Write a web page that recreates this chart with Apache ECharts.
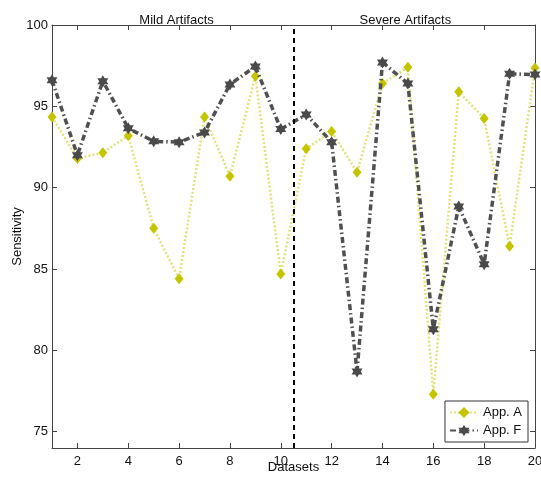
<!DOCTYPE html>
<html>
<head>
<meta charset="utf-8">
<script src="https://cdn.jsdelivr.net/npm/echarts@6/dist/echarts.min.js"></script>
<style>html,body{margin:0;padding:0;background:#fff;}#c{width:541px;height:477px;}</style>
</head>
<body>
<div id="c"></div>
<script>
const datasets = [1,2,3,4,5,6,7,8,9,10,11,12,13,14,15,16,17,18,19,20];
const appA = [94.35,91.8,92.15,93.2,87.5,84.4,94.35,90.7,96.85,84.7,92.4,93.45,90.95,96.4,97.4,77.3,95.9,94.25,86.4,97.35];
const appF = [96.6,92.0,96.55,93.65,92.85,92.8,93.4,96.35,97.45,93.6,94.5,92.8,78.7,97.7,96.4,81.3,88.85,85.3,97.0,96.95];
const xTicks = [2,4,6,8,10,12,14,16,18,20];
const yTicks = [75,80,85,90,95,100];
const splitAt = 10.5;
const sectionTitles = ['Mild Artifacts','Severe Artifacts'];
const sectionCenters = [5.9, 14.9];

const star = 'path://M0,-10 L2.89,-5 L8.66,-5 L5.77,0 L8.66,5 L2.89,5 L0,10 L-2.89,5 L-8.66,5 L-5.77,0 L-8.66,-5 L-2.89,-5 Z';
const font = 'Liberation Sans';
const chart = echarts.init(document.getElementById('c'));
const axisLine = {show:true, lineStyle:{color:'#444', width:1}};
const tick = {show:true, inside:true, length:5, lineStyle:{color:'#444'}};
const grid = {left:52, right:6, top:25, bottom:29, containLabel:false, outerBoundsMode:'none'};

const option = {
  animation:false,
  grid: grid,
  xAxis: [
    {type:'value', min:1, max:20, position:'bottom',
     name:'Datasets', nameLocation:'middle', nameGap:13, nameMoveOverlap:false,
     nameTextStyle:{fontFamily:font, fontSize:13, color:'#111'},
     axisLine:axisLine, axisTick:Object.assign({customValues:xTicks}, tick),
     axisLabel:{customValues:xTicks, fontFamily:font, fontSize:13, color:'#111', margin:7},
     splitLine:{show:false}},
    {type:'value', min:1, max:20, position:'top',
     axisLine:axisLine, axisTick:Object.assign({customValues:xTicks}, tick),
     axisLabel:{show:false}, splitLine:{show:false}}
  ],
  yAxis: [
    {type:'value', min:74, max:100, position:'left',
     name:'Sensitivity', nameLocation:'middle', nameGap:28, nameMoveOverlap:false,
     nameTextStyle:{fontFamily:font, fontSize:13, color:'#111'},
     axisLine:axisLine, axisTick:Object.assign({customValues:yTicks}, tick),
     axisLabel:{customValues:yTicks, fontFamily:font, fontSize:13, color:'#111', margin:4},
     splitLine:{show:false}},
    {type:'value', min:74, max:100, position:'right',
     axisLine:axisLine, axisTick:Object.assign({customValues:yTicks}, tick),
     axisLabel:{show:false}, splitLine:{show:false}}
  ],
  legend: {
    orient:'vertical', right:13, bottom:35,
    backgroundColor:'#fff', borderColor:'#333', borderWidth:1,
    padding:[5,6,5,4], itemGap:5, itemWidth:28, itemHeight:14,
    textStyle:{fontFamily:font, fontSize:13, color:'#111'},
    data:['App. A','App. F']
  },
  graphic: sectionTitles.map((t,i)=>({
    type:'text', x: grid.left + (sectionCenters[i]-1)/19*(541-grid.left-grid.right), y:20,
    style:{text:t, font:'13px "Liberation Sans"', fill:'#111', textAlign:'center', textVerticalAlign:'middle'}
  })),
  series: [
    {name:'App. A', type:'line', data: datasets.map((d,i)=>[d, appA[i]]),
     symbol:'diamond', symbolSize:[9,11],
     itemStyle:{color:'#c4c400'},
     lineStyle:{color:'#e2e27a', width:2.5, type:[2,2]}, z:2},
    {name:'App. F', type:'line', data: datasets.map((d,i)=>[d, appF[i]]),
     symbol:star, symbolSize:[11,12],
     itemStyle:{color:'#4a4a4a'},
     lineStyle:{color:'#505050', width:3.5, type:[6,3,1.5,3]}, z:3,
     markLine:{silent:true, symbol:['none','none'], label:{show:false},
       lineStyle:{color:'#000', type:[5,4], width:2},
       data:[{xAxis:splitAt}]}}
  ]
};
chart.setOption(option);
</script>
</body>
</html>
